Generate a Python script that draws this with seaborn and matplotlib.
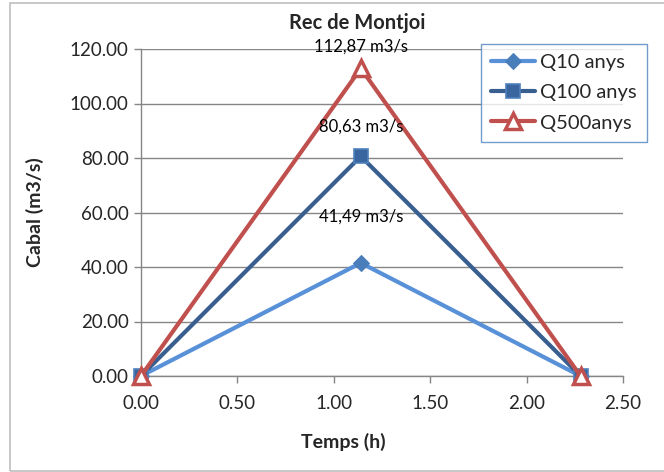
import matplotlib
matplotlib.use("Agg")
import matplotlib.pyplot as plt
import seaborn as sns
import pandas as pd
from matplotlib.patches import Rectangle

# Data
temps = [0.00, 1.14, 2.28]
q10 = [0.00, 41.49, 0.00]
q100 = [0.00, 80.63, 0.00]
q500 = [0.00, 112.87, 0.00]
series_names = ["Q10 anys", "Q100 anys", "Q500anys"]
peak_labels = ["41,49 m3/s", "80,63 m3/s", "112,87 m3/s"]
xticks = [0.0, 0.5, 1.0, 1.5, 2.0, 2.5]
yticks = [0, 20, 40, 60, 80, 100, 120]

sns.set_theme(style="white")
plt.rcParams['font.family'] = ['Lato', 'DejaVu Sans']

df = pd.DataFrame({
    "Temps": temps * 3,
    "Cabal": q10 + q100 + q500,
    "Serie": [series_names[0]] * 3 + [series_names[1]] * 3 + [series_names[2]] * 3,
})

fig = plt.figure(figsize=(6.64, 4.72), dpi=100)
ax = fig.add_axes([141 / 664, 1 - 376 / 472, (623 - 141) / 664, (376 - 49) / 472])

line_colors = ["#5891D8", "#385F8F", "#C0504D"]
styles = [
    dict(marker="D", markersize=8, markerfacecolor="#4A7EBB", markeredgecolor="#4A7EBB"),
    dict(marker="s", markersize=10, markerfacecolor="#3A66A0", markeredgecolor="#4F81BD", markeredgewidth=1.2),
    dict(marker="^", markersize=11, markerfacecolor="white", markeredgecolor="#C0504D", markeredgewidth=2.5),
]

for i, name in enumerate(series_names):
    sub = df[df["Serie"] == name]
    sns.lineplot(data=sub, x="Temps", y="Cabal", ax=ax, color=line_colors[i],
                 linewidth=3, label=name, zorder=3 + i, clip_on=False, **styles[i])

# peak labels
peaks = [q10, q100, q500]
offsets = [33, 21, 16]
for i in range(3):
    ax.annotate(peak_labels[i], xy=(temps[1], peaks[i][1]), xytext=(0, offsets[i]),
                textcoords="offset points", ha="center", va="center",
                fontsize=12, color="black", zorder=10)

ax.set_xlim(0, 2.5)
ax.set_ylim(0, 120)
ax.set_xticks(xticks)
ax.set_yticks(yticks)
ax.set_xticklabels([f"{v:.2f}" for v in xticks], fontsize=13.5)
ax.set_yticklabels([f"{v:.2f}" for v in yticks], fontsize=13.5)
ax.tick_params(axis="both", direction="out", length=5, width=1, color="#868686",
               bottom=True, left=True, pad=4)
ax.tick_params(axis="x", pad=9)
ax.grid(axis="y", color="#868686", linewidth=1)
ax.grid(axis="x", visible=False)
for s in ["top", "right"]:
    ax.spines[s].set_visible(False)
for s in ["left", "bottom"]:
    ax.spines[s].set_color("#868686")
    ax.spines[s].set_linewidth(1)
ax.set_xlabel("")
ax.set_ylabel("")

fig.text(357 / 664, 1 - 23 / 472, "Rec de Montjoi", ha="center", va="center",
         fontsize=14.5, fontweight="bold")
fig.text(343 / 664, 1 - 442 / 472, "Temps (h)", ha="center", va="center",
         fontsize=14, fontweight="bold")
fig.text(35 / 664, 1 - 212 / 472, "Cabal (m3/s)", ha="center", va="center",
         fontsize=14, fontweight="bold", rotation=90)

leg = ax.legend(loc="upper right", bbox_to_anchor=(647 / 664, 1 - 44 / 472),
                bbox_transform=fig.transFigure, fancybox=False, frameon=True,
                fontsize=14.5, handlelength=2.2, handletextpad=0.25,
                borderpad=0.5, labelspacing=0.65, borderaxespad=0)
leg.get_frame().set_edgecolor("#4F81BD")
leg.get_frame().set_linewidth(1)

fig.patches.append(Rectangle((10 / 664, 1 / 472), 2, 1 - 4 / 472, transform=fig.transFigure,
                             fill=False, edgecolor="#BFBFBF", linewidth=1.2, zorder=0))

fig.savefig("out.png", dpi=100)
